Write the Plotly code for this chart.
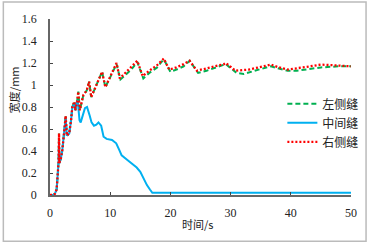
import plotly.graph_objects as go

# Left seam (green dashed)
t_left = [0, 0.5, 0.8, 1.1, 1.3, 1.42, 1.5, 1.55, 1.8, 2.05, 2.4, 2.6, 2.8, 3.2, 3.5, 3.7, 4.05, 4.2, 4.5, 4.7,
          4.95, 5.55, 6.1, 6.5, 6.85, 7.5, 8.05, 8.65, 9.2, 10.0, 10.6, 11.05, 11.7, 12.5, 13.5, 14.5, 15.5,
          16.5, 17.8, 18.9, 20.0, 21.0, 22.2, 23.2, 24.6, 26.0, 28.9, 29.2, 31.0, 32.2, 34.0, 36.7, 38.0,
          39.5, 41.0, 45.0, 48.0, 50.0]
v_left = [0, 0, 0.01, 0.05, 0.2, 0.3, 0.56, 0.29, 0.33, 0.41, 0.6, 0.72, 0.54, 0.56, 0.68, 0.8, 0.85, 0.77, 0.85, 0.94,
          0.77, 0.91, 0.95, 1.03, 0.89, 0.97, 1.04, 1.12, 0.98, 1.07, 1.13, 1.19, 1.05, 1.09, 1.14, 1.21, 1.06,
          1.11, 1.16, 1.235, 1.12, 1.14, 1.17, 1.22, 1.11, 1.13, 1.19, 1.19, 1.11, 1.10, 1.13, 1.17, 1.15,
          1.13, 1.13, 1.16, 1.17, 1.17]

# Middle seam (blue solid)
t_mid = [0, 0.5, 0.8, 1.1, 1.3, 1.42, 1.5, 1.55, 1.8, 2.05, 2.4, 2.6, 2.8, 3.2, 3.5, 3.7, 4.05, 4.2, 4.45, 4.6,
         4.9, 5.1, 5.8, 6.15, 6.6, 6.9, 7.3, 7.7, 8.05, 8.5, 8.9, 9.4, 10.3, 11.0, 11.5, 11.9, 12.8, 13.6,
         14.4, 15.0, 15.5, 16.1, 16.6, 17.0, 17.5, 50.0]
v_mid = [0, 0, 0.01, 0.05, 0.2, 0.3, 0.5, 0.29, 0.33, 0.41, 0.6, 0.7, 0.54, 0.56, 0.68, 0.79, 0.83, 0.77, 0.84, 0.86,
         0.68, 0.66, 0.79, 0.80, 0.72, 0.66, 0.63, 0.64, 0.66, 0.63, 0.53, 0.51, 0.50, 0.47, 0.41, 0.36, 0.32, 0.285,
         0.25, 0.21, 0.15, 0.09, 0.05, 0.02, 0.02, 0.02]

# Right seam (red dotted)
t_right = [0, 0.5, 0.8, 1.1, 1.3, 1.42, 1.5, 1.55, 1.8, 2.05, 2.4, 2.6, 2.8, 3.2, 3.5, 3.7, 4.05, 4.2, 4.5, 4.7,
           4.95, 5.55, 6.1, 6.5, 6.85, 7.5, 8.05, 8.65, 9.2, 10.0, 10.6, 11.05, 11.6, 12.5, 13.5, 14.5, 15.4,
           16.5, 17.8, 18.9, 19.8, 21.0, 22.2, 23.2, 24.4, 26.0, 28.9, 29.2, 30.8, 33.0, 36.7, 38.0, 39.5,
           42.0, 45.0, 47.0, 50.0]
v_right = [0, 0, 0.01, 0.05, 0.2, 0.3, 0.56, 0.29, 0.33, 0.41, 0.6, 0.72, 0.54, 0.56, 0.68, 0.8, 0.85, 0.77, 0.85, 0.94,
           0.77, 0.91, 0.95, 1.03, 0.89, 0.97, 1.04, 1.12, 0.98, 1.08, 1.14, 1.20, 1.06, 1.11, 1.16, 1.22, 1.08,
           1.13, 1.18, 1.24, 1.14, 1.16, 1.19, 1.22, 1.13, 1.15, 1.19, 1.20, 1.13, 1.14, 1.185, 1.16, 1.14,
           1.16, 1.185, 1.18, 1.17]

names = ["左侧缝", "中间缝", "右侧缝"]
x_ticks = [0, 10, 20, 30, 40, 50]
y_ticks = [0, 0.2, 0.4, 0.6, 0.8, 1.0, 1.2, 1.4, 1.6]
y_tick_text = ["0", "0.2", "0.4", "0.6", "0.8", "1", "1.2", "1.4", "1.6"]

fig = go.Figure()
fig.add_trace(go.Scatter(x=t_left, y=v_left, name=names[0], mode="lines",
                         line=dict(color="#00B050", width=2, dash="5px,3px")))
fig.add_trace(go.Scatter(x=t_mid, y=v_mid, name=names[1], mode="lines",
                         line=dict(color="#00B0F0", width=2)))
fig.add_trace(go.Scatter(x=t_right, y=v_right, name=names[2], mode="lines",
                         line=dict(color="#FF0000", width=2.3, dash="2px,2px")))

serif = "Liberation Serif, Times New Roman, serif"
cjk = "Noto Sans CJK SC"

fig.update_layout(
    width=368, height=245,
    autosize=False,
    margin=dict(l=50, r=17, t=19, b=50, pad=0, autoexpand=False),
    paper_bgcolor="white", plot_bgcolor="white",
    showlegend=True,
    legend=dict(x=0.772, y=0.41, xanchor="left", yanchor="middle",
                font=dict(family=cjk, size=12, color="#222"),
                bgcolor="rgba(0,0,0,0)", tracegroupgap=0, itemwidth=30),
    xaxis=dict(range=[0, 50], tickvals=x_ticks, ticks="inside", ticklen=3, tickcolor="#444",
               showline=True, linecolor="#666", linewidth=1.5, showgrid=False, zeroline=False,
               automargin=False, ticklabelstandoff=6,
               tickfont=dict(family=serif, size=12, color="#222")),
    yaxis=dict(range=[0, 1.6], tickvals=y_ticks, ticktext=y_tick_text, ticks="inside", ticklen=3,
               tickcolor="#444", showline=True, linecolor="#666", linewidth=1.5, showgrid=False,
               zeroline=False, automargin=False, ticklabelstandoff=9,
               tickfont=dict(family=serif, size=12, color="#222")),
    annotations=[
        dict(text="时间/s", xref="paper", yref="paper", x=0.49, y=-0.165, showarrow=False,
             xanchor="center", yanchor="middle", font=dict(family=cjk, size=11, color="#222")),
        dict(text="宽度/mm", xref="paper", yref="paper", x=-0.117, y=0.6, showarrow=False,
             textangle=-90, xanchor="center", yanchor="middle",
             font=dict(family=cjk, size=11, color="#222")),
    ],
    shapes=[dict(type="rect", xref="paper", yref="paper", x0=-0.155, x1=1.05, y0=-0.263, y1=1.097,
                 line=dict(color="#BBBBBB", width=1.5))],
)

fig.write_html("out.html",
               config={"displayModeBar": False},
               post_script="document.body.style.margin='0';document.body.style.padding='0';"
                           "document.documentElement.style.overflow='hidden';")
